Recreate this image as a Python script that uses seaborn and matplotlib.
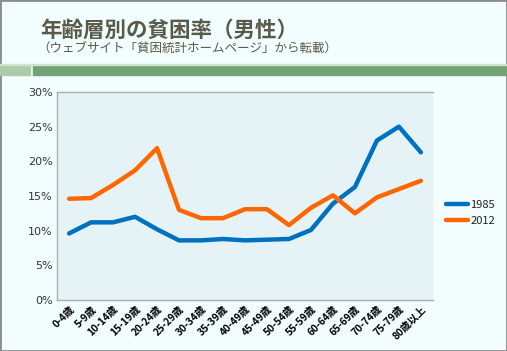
import matplotlib
matplotlib.use("Agg")
import matplotlib.pyplot as plt
import matplotlib.patches as patches
import seaborn as sns
import pandas as pd

# age groups (as printed on the original slide)
age_groups = ["0-4歳", "5-9歳", "10-14歳", "15-19歳", "20-24歳", "25-29歳",
              "30-34歳", "35-39歳", "40-49歳", "45-49歳", "50-54歳", "55-59歳",
              "60-64歳", "65-69歳", "70-74歳", "75-79歳", "80歳以上"]

# poverty rate, men (%)
rate_1985 = [9.6, 11.2, 11.2, 12.0, 10.2, 8.6, 8.6, 8.8, 8.6, 8.7, 8.8,
             10.1, 13.9, 16.3, 23.0, 25.0, 21.3]
rate_2012 = [14.6, 14.7, 16.6, 18.7, 21.9, 13.0, 11.8, 11.8, 13.1, 13.1, 10.8,
             13.3, 15.1, 12.5, 14.8, 16.0, 17.2]

years = ["1985", "2012"]
colors = {"1985": "#0070C0", "2012": "#FF6600"}

df = pd.DataFrame({
    "age": age_groups * 2,
    "pos": list(range(len(age_groups))) * 2,
    "rate": rate_1985 + rate_2012,
    "year": ["1985"] * len(age_groups) + ["2012"] * len(age_groups),
})

sns.set_style("white")
plt.rcParams["font.family"] = ["Noto Sans CJK JP", "DejaVu Sans"]

bg = "#F2FDFD"
fig = plt.figure(figsize=(5.07, 3.51), dpi=100, facecolor=bg)
W, H = 507, 351

# slide frame
fig.patches.append(patches.Rectangle((0, 0), 1, 1, transform=fig.transFigure,
                                     fill=False, edgecolor="#8C8C8C", linewidth=2))
# green header bars
fig.patches.append(patches.Rectangle((0, 1 - 75 / H), 30 / W, 10 / H,
                                     transform=fig.transFigure, color="#ABCBA9"))
fig.patches.append(patches.Rectangle((33 / W, 1 - 75 / H), 1 - 33 / W, 10 / H,
                                     transform=fig.transFigure, color="#72A276"))
fig.patches.append(patches.Rectangle((0, 1 - 65 / H), 1, 0.5 / H,
                                     transform=fig.transFigure, color="#D0E4D0"))

fig.text(40 / W, 1 - 30 / H, "年齢層別の貧困率（男性）", fontsize=15.5,
         color="#5A5A4A", va="center", ha="left", fontweight="bold")
fig.text(37 / W, 1 - 48 / H, "（ウェブサイト「貧困統計ホームページ」から転載）",
         fontsize=9, color="#5A5A4A", va="center", ha="left")

ax = fig.add_axes([57 / W, 1 - 300 / H, (433 - 57) / W, (300 - 92) / H])
ax.set_facecolor("#E6F3F6")

sns.lineplot(data=df, x="pos", y="rate", hue="year", palette=colors,
             hue_order=years, linewidth=3.2, ax=ax, legend=True)

ax.set_xlim(-0.55, len(age_groups) - 0.45)
ax.set_ylim(0, 30)
ax.set_yticks(range(0, 31, 5))
ax.set_yticklabels([f"{v}%" for v in range(0, 31, 5)], fontsize=8,
                   color="#333333", family=["DejaVu Sans"])
ax.set_xticks(range(len(age_groups)))
ax.set_xticklabels(age_groups, rotation=45, ha="right", rotation_mode="anchor",
                   fontsize=7.3, fontweight="bold", color="black")
ax.tick_params(axis="both", length=0, pad=3)
ax.set_xlabel("")
ax.set_ylabel("")

for side in ["top", "bottom", "left"]:
    ax.spines[side].set_color("#A8B0B0")
    ax.spines[side].set_linewidth(1)
ax.spines["right"].set_visible(False)

leg = ax.legend(loc="center left", bbox_to_anchor=(1.035, 0.42), frameon=False,
                fontsize=8, handlelength=2.0, handletextpad=0.15, labelspacing=0.55,
                borderaxespad=0, borderpad=0)
for t in leg.get_texts():
    t.set_color("#222222")

fig.savefig("out.png", dpi=100, facecolor=bg)
